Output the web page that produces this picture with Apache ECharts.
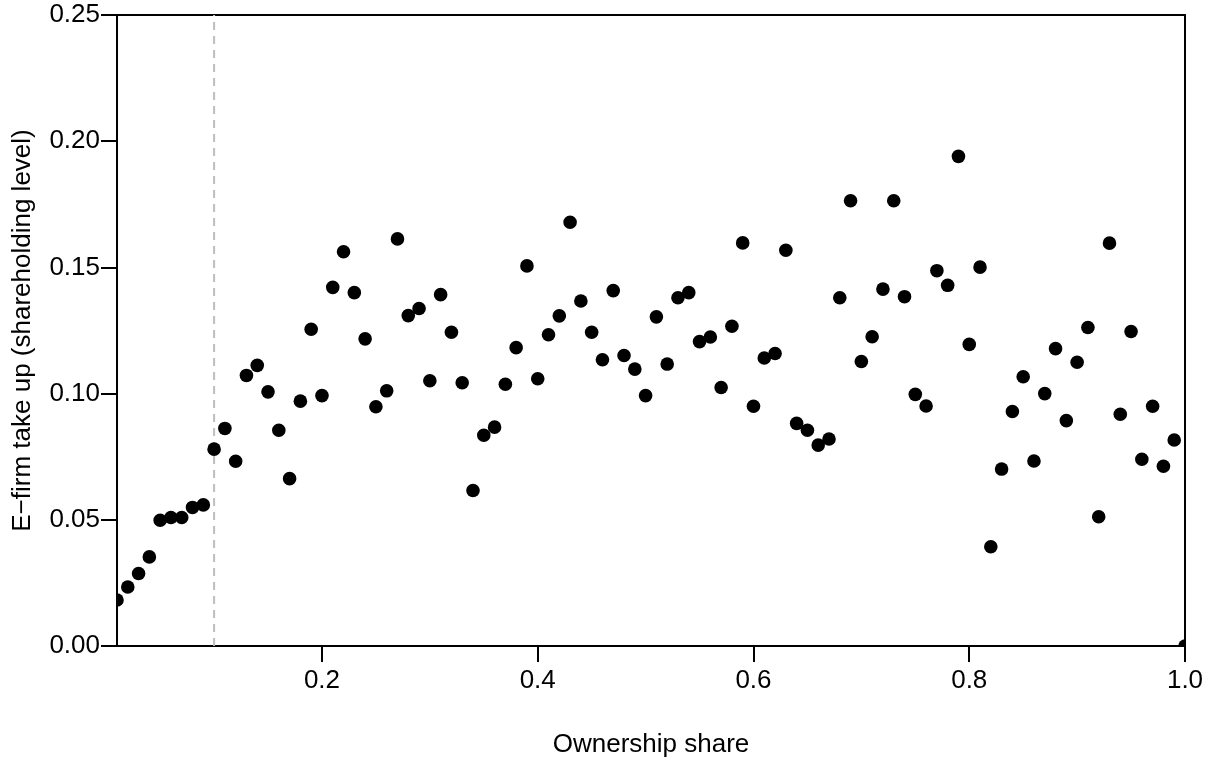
<!DOCTYPE html>
<html>
<head>
<meta charset="utf-8">
<script src="https://cdn.jsdelivr.net/npm/echarts@6/dist/echarts.min.js"></script>
<style>
  html, body { margin: 0; padding: 0; background: #fff; }
  #chart { width: 1213px; height: 763px; }
</style>
</head>
<body>
<div id="chart"></div>
<script>
// ---- data ----
const ownershipShare = [
  0.01,0.02,0.03,0.04,0.05,0.06,0.07,0.08,0.09,0.10,
  0.11,0.12,0.13,0.14,0.15,0.16,0.17,0.18,0.19,0.20,
  0.21,0.22,0.23,0.24,0.25,0.26,0.27,0.28,0.29,0.30,
  0.31,0.32,0.33,0.34,0.35,0.36,0.37,0.38,0.39,0.40,
  0.41,0.42,0.43,0.44,0.45,0.46,0.47,0.48,0.49,0.50,
  0.51,0.52,0.53,0.54,0.55,0.56,0.57,0.58,0.59,0.60,
  0.61,0.62,0.63,0.64,0.65,0.66,0.67,0.68,0.69,0.70,
  0.71,0.72,0.73,0.74,0.75,0.76,0.77,0.78,0.79,0.80,
  0.81,0.82,0.83,0.84,0.85,0.86,0.87,0.88,0.89,0.90,
  0.91,0.92,0.93,0.94,0.95,0.96,0.97,0.98,0.99,1.00
];
const takeUp = [
  0.0182,0.0234,0.0287,0.0353,0.0498,0.0509,0.0509,0.0549,0.0559,0.0780,
  0.0862,0.0732,0.1072,0.1112,0.1007,0.0855,0.0663,0.0970,0.1255,0.0992,
  0.1421,0.1562,0.1400,0.1217,0.0948,0.1011,0.1613,0.1309,0.1337,0.1051,
  0.1392,0.1243,0.1043,0.0616,0.0835,0.0867,0.1037,0.1182,0.1506,0.1059,
  0.1233,0.1308,0.1679,0.1367,0.1243,0.1134,0.1408,0.1151,0.1097,0.0992,
  0.1304,0.1117,0.1380,0.1400,0.1206,0.1224,0.1024,0.1267,0.1597,0.0950,
  0.1141,0.1159,0.1568,0.0882,0.0855,0.0796,0.0820,0.1380,0.1764,0.1127,
  0.1225,0.1414,0.1764,0.1384,0.0997,0.0951,0.1487,0.1429,0.1940,0.1195,
  0.1501,0.0393,0.0701,0.0929,0.1067,0.0733,0.1000,0.1178,0.0893,0.1124,
  0.1262,0.0512,0.1596,0.0918,0.1246,0.0740,0.0950,0.0712,0.0816,0.0000
];
const cutoffShare = 0.1;
const xTicks = [0.2, 0.4, 0.6, 0.8, 1.0];
const yTicks = [0.00, 0.05, 0.10, 0.15, 0.20, 0.25];
const xTitle = 'Ownership share';
const yTitle = 'E\u2212firm take up (shareholding level)';

// ---- chart ----
const FONT = "'Liberation Sans', Arial, sans-serif";
const points = ownershipShare.map((x, i) => [x, takeUp[i]]);
const chart = echarts.init(document.getElementById('chart'), null, { renderer: 'canvas' });

chart.setOption({
  animation: false,
  backgroundColor: '#ffffff',
  grid: {
    left: 117, top: 15, width: 1068, height: 633,
    show: true, borderColor: '#000', borderWidth: 2, backgroundColor: 'transparent'
  },
  xAxis: {
    type: 'value',
    min: ownershipShare[0],
    max: ownershipShare[ownershipShare.length - 1],
    name: xTitle,
    nameLocation: 'middle',
    nameGap: 86,
    nameTextStyle: { fontSize: 26, color: '#000', fontFamily: FONT },
    axisLine: { show: true, onZero: false, lineStyle: { color: '#000', width: 2 } },
    axisTick: { show: true, inside: false, length: 16, customValues: xTicks, lineStyle: { color: '#000', width: 2 } },
    axisLabel: {
      show: true, customValues: xTicks, margin: 22,
      fontSize: 26, color: '#000', fontFamily: FONT,
      formatter: v => Number(v).toFixed(1)
    },
    splitLine: { show: false }
  },
  yAxis: {
    type: 'value',
    min: yTicks[0],
    max: yTicks[yTicks.length - 1],
    name: yTitle,
    nameLocation: 'middle',
    nameGap: 81,
    nameRotate: 90,
    nameTextStyle: { fontSize: 26, color: '#000', fontFamily: FONT },
    axisLine: { show: true, onZero: false, lineStyle: { color: '#000', width: 2 } },
    axisTick: { show: true, inside: false, length: 16, customValues: yTicks, lineStyle: { color: '#000', width: 2 } },
    axisLabel: {
      show: true, customValues: yTicks, margin: 17,
      fontSize: 26, color: '#000', fontFamily: FONT,
      formatter: v => Number(v).toFixed(2)
    },
    splitLine: { show: false }
  },
  series: [
    {
      type: 'line',
      data: [[cutoffShare, yTicks[0]], [cutoffShare, yTicks[yTicks.length - 1]]],
      showSymbol: false,
      symbol: 'none',
      silent: true,
      z: 1,
      lineStyle: { color: '#bebebe', width: 2, type: [8, 6] }
    },
    {
      type: 'custom',
      clip: true,
      z: 3,
      data: points,
      renderItem: function (params, api) {
        const p = api.coord([api.value(0), api.value(1)]);
        return {
          type: 'circle',
          shape: { cx: p[0], cy: p[1], r: 6.8 },
          style: { fill: '#000' }
        };
      }
    }
  ]
});
</script>
</body>
</html>
